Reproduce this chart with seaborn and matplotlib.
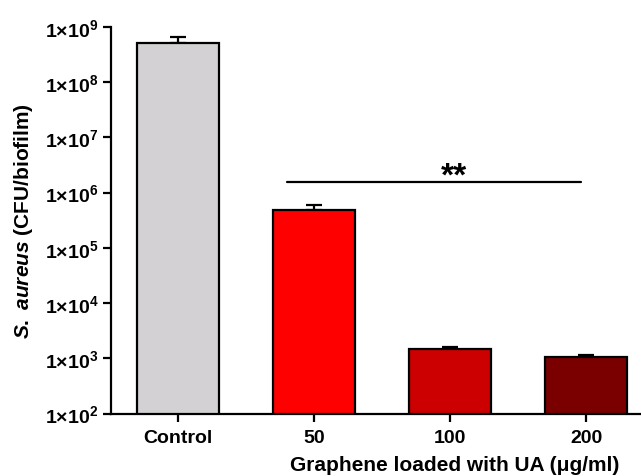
import matplotlib
matplotlib.use("Agg")
import matplotlib.pyplot as plt
import seaborn as sns
import numpy as np
import pandas as pd

categories = ["Control", "50", "100", "200"]
means = [5.2e8, 4.9e5, 1.45e3, 1.05e3]
errors_up = [1.5e8, 1.1e5, 0.15e3, 0.12e3]
colors = ["#D3D1D3", "#FF0000", "#CC0000", "#7A0000"]
ytick_exps = [2, 3, 4, 5, 6, 7, 8, 9]
sig_text = "**"
sig_from, sig_to, sig_y = 0.80, 2.96, 1.55e6

sns.set_style("ticks")
plt.rcParams["font.family"] = ["Liberation Sans", "DejaVu Sans"]
plt.rcParams["mathtext.fontset"] = "custom"
plt.rcParams["mathtext.rm"] = "Liberation Sans:bold"
plt.rcParams["mathtext.bf"] = "Liberation Sans:bold"
plt.rcParams["mathtext.it"] = "Liberation Sans:bold:italic"
plt.rcParams["text.color"] = "black"
plt.rcParams["axes.labelcolor"] = "black"
plt.rcParams["xtick.color"] = "black"
plt.rcParams["ytick.color"] = "black"

fig = plt.figure(figsize=(6.41, 4.77), dpi=100)
ax = fig.add_axes([111/641, 1 - 414.5/477, 1 - 111/641 + 0.01, (414.5 - 28)/477])

df = pd.DataFrame({"group": categories, "cfu": means})
sns.barplot(data=df, x="group", y="cfu", hue="group", palette=colors,
            order=categories, hue_order=categories, legend=False,
            errorbar=None, width=0.6, edgecolor="black", linewidth=1.6,
            saturation=1, log_scale=True, ax=ax, zorder=2)

xs = np.arange(len(categories))
ax.errorbar(xs, means, yerr=[np.zeros(len(means)), errors_up], fmt="none",
            ecolor="black", elinewidth=1.6, capsize=5.5, capthick=1.6, zorder=1)

ax.set_yscale("log")
ax.set_ylim(1e2, 1e9)
ax.set_xlim(-0.49, 3.45)
ax.set_yticks([10.0**e for e in ytick_exps])
ax.set_yticklabels([r"$1{\times}10^{%d}$" % e for e in ytick_exps], fontsize=14)
ax.yaxis.set_minor_locator(matplotlib.ticker.NullLocator())
ax.set_xticks(xs)
ax.set_xticklabels(categories, fontsize=14, fontweight="bold")
ax.tick_params(axis="both", width=1.6, length=6, color="black", pad=3)
ax.tick_params(axis="x", pad=5)
for s in ["left", "bottom"]:
    ax.spines[s].set_linewidth(1.6)
    ax.spines[s].set_color("black")
sns.despine(ax=ax)

ax.set_xlabel("")
ax.set_ylabel(r"$\it{S.\ aureus}$ (CFU/biofilm)", fontsize=15, fontweight="bold")
ax.yaxis.set_label_coords(-0.142, 0.5)
fig.text(455/641, 1 - 466/477, "Graphene loaded with UA (μg/ml)", fontsize=15,
         fontweight="bold", ha="center", va="center")

ax.plot([sig_from, sig_to], [sig_y, sig_y], color="black", lw=1.6)
ax.text(2.03, sig_y * 0.68, sig_text, ha="center", va="bottom", fontsize=24, fontweight="bold")

fig.savefig("out.png", dpi=100)
